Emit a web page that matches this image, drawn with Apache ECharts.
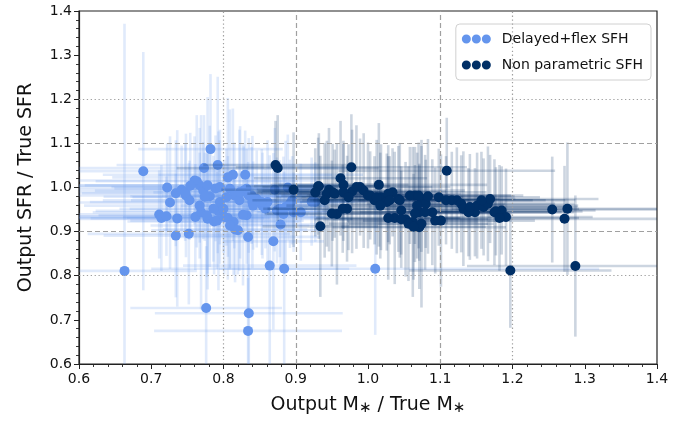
<!DOCTYPE html>
<html>
<head>
<meta charset="utf-8">
<script src="https://cdn.jsdelivr.net/npm/echarts@6/dist/echarts.min.js"></script>
<style>
  html, body { margin: 0; padding: 0; background: #fff; }
  #main { width: 686px; height: 421px; }
</style>
</head>
<body>
<div id="main"></div>
<script>
// Delayed+flex SFH : x, y, x error, y error
var flexX  = [0.689,0.663,0.782,0.792,0.773,0.813,0.830,0.806,0.722,0.726,0.711,0.714,0.721,0.736,0.734,0.752,0.761,0.769,0.778,0.787,
              0.793,0.806,0.814,0.820,0.834,0.832,0.869,0.879,0.864,0.884,1.010,0.776,0.835,0.834,0.927,0.907,0.895,0.871,0.889,0.734,
              0.742,0.748,0.753,0.763,0.767,0.772,0.778,0.781,0.789,0.795,0.800,0.809,0.815,0.822,0.828,0.835,0.840,0.846,0.854,0.858,
              0.861,0.874,0.886,0.892,0.897,0.883,0.804,0.767,0.760,0.777,0.791,0.801,0.816,0.809,0.827,0.841,0.853,0.878,0.823,0.832,
              0.839,0.795,0.747,0.754,0.774,0.786,0.922];
var flexY  = [1.037,0.811,1.087,1.051,1.044,1.029,1.029,1.023,1.000,0.966,0.939,0.931,0.935,0.930,0.891,0.895,0.933,0.944,0.929,0.923,
              0.947,0.931,0.922,0.903,0.888,0.937,0.878,0.916,0.823,0.816,0.816,0.727,0.715,0.675,0.967,0.944,0.971,0.995,1.000,0.987,
              0.995,0.982,0.971,1.014,1.005,0.993,1.005,0.980,0.998,0.967,0.952,0.997,0.982,0.971,0.993,0.982,0.967,0.974,0.959,0.952,
              0.967,0.948,0.956,0.963,0.944,0.940,0.978,0.959,1.016,0.937,0.925,0.933,0.905,0.914,0.938,0.959,0.967,0.952,0.989,0.997,
              0.982,1.001,0.989,1.004,0.979,0.952,0.968];
var flexXe = [0.12,0.10,0.10,0.14,0.20,0.18,0.12,0.16,0.14,0.13,0.12,0.15,0.16,0.12,0.10,0.14,0.18,0.15,0.20,0.12,
              0.17,0.14,0.09,0.12,0.10,0.08,0.07,0.06,0.12,0.09,0.31,0.105,0.13,0.13,0.07,0.06,0.08,0.09,0.07,0.13,
              0.16,0.19,0.12,0.14,0.21,0.15,0.17,0.11,0.14,0.18,0.13,0.12,0.10,0.15,0.09,0.11,0.08,0.10,0.09,0.07,
              0.08,0.09,0.06,0.07,0.05,0.08,0.13,0.16,0.17,0.15,0.12,0.14,0.10,0.11,0.09,0.10,0.08,0.07,0.12,0.10,
              0.09,0.15,0.18,0.20,0.14,0.13,0.06];
var flexYe = [0.27,0.56,0.17,0.20,0.12,0.15,0.10,0.18,0.10,0.15,0.10,0.12,0.09,0.20,0.14,0.16,0.12,0.22,0.16,0.12,
              0.18,0.14,0.12,0.10,0.17,0.11,0.20,0.10,0.25,0.22,0.15,0.14,0.17,0.12,0.09,0.11,0.10,0.14,0.12,0.12,
              0.10,0.14,0.09,0.15,0.13,0.11,0.20,0.16,0.12,0.14,0.10,0.18,0.12,0.16,0.10,0.13,0.15,0.11,0.12,0.09,
              0.14,0.12,0.15,0.10,0.09,0.13,0.11,0.12,0.10,0.14,0.11,0.13,0.12,0.10,0.16,0.10,0.12,0.11,0.15,0.09,
              0.11,0.13,0.11,0.12,0.10,0.12,0.10];

// Non parametric SFH : x, y, x error, y error
var npX  = [0.872,0.875,0.977,1.109,0.897,0.934,0.932,0.946,0.951,0.962,0.966,0.957,0.971,0.978,0.989,0.994,1.000,1.009,1.015,1.018,
            1.026,1.034,1.037,1.042,1.046,1.052,1.062,1.071,1.074,1.065,1.074,1.080,1.083,1.089,1.098,1.101,1.108,1.123,1.129,1.132,
            1.148,1.151,1.160,1.166,1.169,1.175,1.185,1.191,1.197,1.255,1.276,1.272,1.287,1.071,1.068,0.931,0.927,0.943,0.940,0.954,
            0.966,0.973,0.984,1.003,1.012,1.028,1.017,1.030,1.044,1.058,1.070,0.965,0.950,1.028,1.046,1.056,1.063,1.065,1.079,1.093,
            1.116,1.139,1.141,1.157,1.177,1.182];
var npY  = [1.051,1.044,1.046,1.038,0.995,0.912,1.003,0.995,0.989,1.021,1.006,0.940,0.952,0.991,1.001,0.993,0.982,0.971,1.006,0.978,
            0.967,0.989,0.931,0.974,0.948,0.928,0.922,0.910,0.918,0.982,0.974,0.963,0.980,0.944,0.978,0.925,0.971,0.971,0.963,0.952,
            0.944,0.959,0.956,0.963,0.974,0.944,0.948,0.933,0.812,0.950,0.952,0.929,0.822,0.944,0.959,1.003,0.989,0.986,0.971,0.986,
            0.989,0.978,1.001,0.982,0.978,0.986,0.959,0.971,0.971,0.982,0.982,0.952,0.941,0.931,0.928,0.918,0.911,0.941,0.944,0.925,
            0.971,0.944,0.956,0.971,0.946,0.931];
var npXe = [0.10,0.14,0.16,0.15,0.10,0.08,0.09,0.10,0.08,0.12,0.09,0.10,0.11,0.13,0.10,0.14,0.12,0.10,0.15,0.11,
            0.12,0.13,0.09,0.14,0.11,0.10,0.09,0.12,0.10,0.15,0.13,0.11,0.12,0.10,0.14,0.13,0.12,0.15,0.13,0.16,
            0.12,0.14,0.13,0.12,0.15,0.11,0.13,0.12,0.14,0.19,0.16,0.18,0.15,0.10,0.12,0.10,0.09,0.11,0.10,0.09,
            0.12,0.10,0.13,0.11,0.12,0.10,0.13,0.11,0.12,0.14,0.10,0.11,0.09,0.10,0.12,0.11,0.10,0.12,0.11,0.10,
            0.13,0.12,0.14,0.13,0.12,0.11];
var npYe = [0.10,0.12,0.12,0.12,0.13,0.16,0.12,0.14,0.11,0.13,0.10,0.16,0.12,0.14,0.11,0.13,0.12,0.10,0.14,0.12,
            0.11,0.10,0.15,0.12,0.10,0.13,0.17,0.14,0.19,0.11,0.12,0.10,0.13,0.12,0.11,0.15,0.10,0.12,0.11,0.13,
            0.10,0.12,0.11,0.13,0.10,0.12,0.10,0.11,0.13,0.12,0.15,0.12,0.16,0.11,0.12,0.11,0.10,0.12,0.13,0.10,
            0.11,0.12,0.14,0.10,0.13,0.11,0.12,0.10,0.13,0.11,0.12,0.10,0.12,0.14,0.11,0.13,0.12,0.11,0.13,0.12,
            0.11,0.10,0.12,0.11,0.10,0.12];

var dashedAt = [0.9, 1.1];
var dottedAt = [0.8, 1.2];

var flexColor = '#6495ED';
var npColor = '#002f66';
var fontFam = 'DejaVu Sans';

function zip4(a, b, c, d) {
    var out = [];
    for (var i = 0; i < a.length; i++) out.push([a[i], b[i], c[i], d[i]]);
    return out;
}

function errBars(stroke) {
    return function (params, api) {
        var x = api.value(0), y = api.value(1), xe = api.value(2), ye = api.value(3);
        var h0 = api.coord([x - xe, y]), h1 = api.coord([x + xe, y]);
        var v0 = api.coord([x, y - ye]), v1 = api.coord([x, y + ye]);
        var st = { stroke: stroke, lineWidth: 2.6, fill: null };
        return {
            type: 'group',
            children: [
                { type: 'line', shape: { x1: h0[0], y1: h0[1], x2: h1[0], y2: h1[1] }, style: st },
                { type: 'line', shape: { x1: v0[0], y1: v0[1], x2: v1[0], y2: v1[1] }, style: st }
            ]
        };
    };
}

var refLines = [];
dashedAt.forEach(function (v) {
    refLines.push({ xAxis: v, lineStyle: { type: [5, 3] } });
    refLines.push({ yAxis: v, lineStyle: { type: [5, 3] } });
});
dottedAt.forEach(function (v) {
    refLines.push({ xAxis: v, lineStyle: { type: [1.3, 2.6] } });
    refLines.push({ yAxis: v, lineStyle: { type: [1.3, 2.6] } });
});

// three dots like matplotlib scatterpoints=3
var dots3 = 'path://M4.5,0A4.5,4.5,0,1,1,4.5,9A4.5,4.5,0,1,1,4.5,0Z' +
            'M14.5,0A4.5,4.5,0,1,1,14.5,9A4.5,4.5,0,1,1,14.5,0Z' +
            'M24.5,0A4.5,4.5,0,1,1,24.5,9A4.5,4.5,0,1,1,24.5,0Z';

var chart = echarts.init(document.getElementById('main'), null, { renderer: 'canvas' });

var axisCommon = {
    type: 'value',
    min: 0.6,
    max: 1.4,
    interval: 0.1,
    axisLine: { show: true, lineStyle: { color: '#222', width: 1.2 } },
    axisTick: { show: true, inside: false, length: 5, lineStyle: { color: '#222', width: 1 } },
    minorTick: { show: true, splitNumber: 5, length: 3, lineStyle: { color: '#222', width: 0.9 } },
    splitLine: { show: false },
    axisLabel: {
        color: '#111', fontSize: 14, fontFamily: fontFam,
        formatter: function (v) { return v.toFixed(1); }
    },
    nameLocation: 'middle'
};

var option = {
    animation: false,
    textStyle: { fontFamily: fontFam },
    grid: { left: 79, right: 29, top: 11, bottom: 55, show: true, borderColor: '#222', borderWidth: 1.2 },
    legend: {
        orient: 'vertical',
        right: 35,
        top: 24,
        data: ['Delayed+flex SFH', 'Non parametric SFH'],
        icon: dots3,
        itemWidth: 29,
        itemHeight: 9,
        itemGap: 12,
        padding: [8, 8, 8, 6],
        borderColor: '#d0d0d0',
        borderWidth: 1,
        borderRadius: 4,
        backgroundColor: 'rgba(255,255,255,0.8)',
        textStyle: { fontSize: 14, color: '#111', fontFamily: fontFam, padding: [0, 0, 0, 6] }
    },
    xAxis: Object.assign({}, axisCommon, {
        axisLabel: Object.assign({}, axisCommon.axisLabel, { margin: 8 }),
        name: 'Output M{s|\u2217} / True M{s|\u2217}',
        nameGap: 30,
        nameTextStyle: {
            fontSize: 19, color: '#111', fontFamily: fontFam,
            rich: { s: { fontSize: 15, color: '#111', fontFamily: fontFam, padding: [7, 0, 0, 0] } }
        }
    }),
    yAxis: Object.assign({}, axisCommon, {
        axisLabel: Object.assign({}, axisCommon.axisLabel, { margin: 7 }),
        name: 'Output SFR / True SFR',
        nameGap: 43,
        nameTextStyle: { fontSize: 19, color: '#111', fontFamily: fontFam }
    }),
    series: [
        {
            type: 'line',
            data: [],
            z: 1,
            silent: true,
            markLine: {
                silent: true,
                symbol: ['none', 'none'],
                label: { show: false },
                lineStyle: { color: '#a0a0a0', width: 1.2 },
                data: refLines
            }
        },
        {
            type: 'custom',
            name: 'flexErr',
            z: 2,
            clip: true,
            silent: true,
            renderItem: errBars('rgba(100,149,237,0.2)'),
            encode: { x: 0, y: 1 },
            data: zip4(flexX, flexY, flexXe, flexYe)
        },
        {
            type: 'scatter',
            name: 'Delayed+flex SFH',
            z: 3,
            symbolSize: 10,
            itemStyle: { color: flexColor, opacity: 1 },
            data: zip4(flexX, flexY, flexXe, flexYe)
        },
        {
            type: 'custom',
            name: 'npErr',
            z: 4,
            clip: true,
            silent: true,
            renderItem: errBars('rgba(0,47,102,0.2)'),
            encode: { x: 0, y: 1 },
            data: zip4(npX, npY, npXe, npYe)
        },
        {
            type: 'scatter',
            name: 'Non parametric SFH',
            z: 5,
            symbolSize: 10,
            itemStyle: { color: npColor, opacity: 1 },
            data: zip4(npX, npY, npXe, npYe)
        }
    ]
};

chart.setOption(option);
</script>
</body>
</html>
